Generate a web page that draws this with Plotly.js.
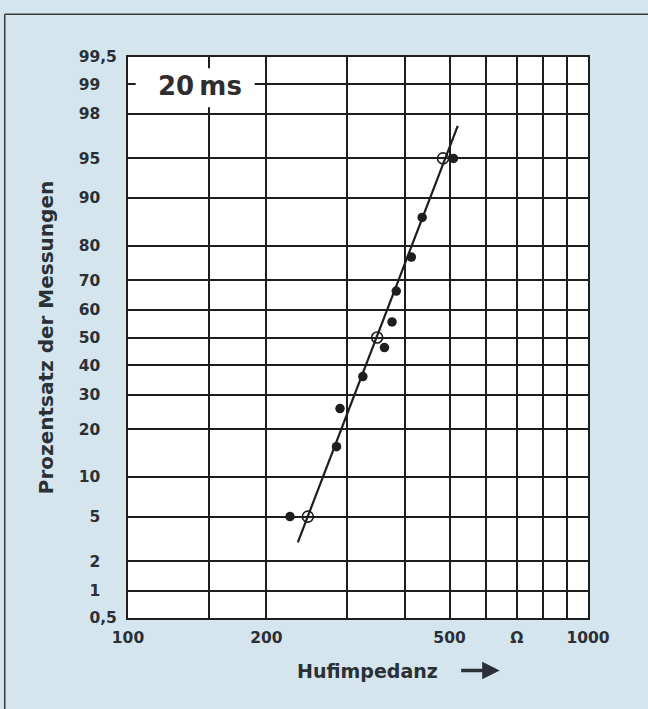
<!DOCTYPE html>
<html>
<head>
<meta charset="utf-8">
<script src="https://cdn.plot.ly/plotly-3.0.1.min.js"></script>
<style>html,body{margin:0;padding:0;background:#d4e5ee;}#chart{width:648px;height:709px;}</style>
</head>
<body>
<div id="chart"></div>
<script>
// ---- data ----
const measuredOhm = [225, 284, 289, 324, 361, 375, 383, 413, 436, 510];
const measuredPct = [5, 15.8, 25.7, 36, 46.3, 55.7, 66.5, 77, 86.5, 95];
const fitPointOhm = [246, 348, 484];
const fitPointPct = [5, 50, 95];
const fitLineOhm = [234, 521];
const fitLinePct = [3.0, 97.4];
const xTickVals = [100, 150, 200, 300, 400, 500, 600, 700, 800, 900, 1000];
const xTickText = ['100', '', '200', '', '', '500', '', 'Ω', '', '', '1000'];
const yTickPct = [0.5, 1, 2, 5, 10, 20, 30, 40, 50, 60, 70, 80, 90, 95, 98, 99, 99.5];
const yTickText = ['0,5', '1', '2', '5', '10', '20', '30', '40', '50', '60', '70', '80', '90', '95', '98', '99', '99,5'];
const insetLabel = '20\u2009ms';
const xTitle = 'Hufimpedanz';
const yTitle = 'Prozentsatz der Messungen';

// normal probability scale (inverse normal CDF, Acklam)
function probit(p) {
  const a=[-3.969683028665376e+01,2.209460984245205e+02,-2.759285104469687e+02,1.383577518672690e+02,-3.066479806614716e+01,2.506628277459239e+00];
  const b=[-5.447609879822406e+01,1.615858368580409e+02,-1.556989798598866e+02,6.680131188771972e+01,-1.328068155288572e+01];
  const c=[-7.784894002430293e-03,-3.223964580411365e-01,-2.400758277161838e+00,-2.549732539343734e+00,4.374664141464968e+00,2.938163982698783e+00];
  const d=[7.784695709041462e-03,3.224671290700398e-01,2.445134137142996e+00,3.754408661907416e+00];
  const pl = 0.02425, ph = 1 - pl; let q, r;
  if (p < pl) { q = Math.sqrt(-2*Math.log(p)); return (((((c[0]*q+c[1])*q+c[2])*q+c[3])*q+c[4])*q+c[5])/((((d[0]*q+d[1])*q+d[2])*q+d[3])*q+1); }
  if (p > ph) { q = Math.sqrt(-2*Math.log(1-p)); return -(((((c[0]*q+c[1])*q+c[2])*q+c[3])*q+c[4])*q+c[5])/((((d[0]*q+d[1])*q+d[2])*q+d[3])*q+1); }
  q = p - 0.5; r = q*q;
  return (((((a[0]*r+a[1])*r+a[2])*r+a[3])*r+a[4])*r+a[5])*q/(((((b[0]*r+b[1])*r+b[2])*r+b[3])*r+b[4])*r+1);
}
const z = arr => arr.map(v => probit(v / 100));

// decimal-aligned tick labels: pad integers with comma-width + figure space
const yTickLabels = yTickText.map(t => t.indexOf(',') >= 0 ? t : t + '\u2008\u2007');

const ink = '#1e1e1e';
const labelFont = {family: 'DejaVu Sans', size: 15.5, color: '#2a3036', weight: 700};

const traces = [
  {x: fitLineOhm, y: z(fitLinePct), mode: 'lines', line: {color: ink, width: 2.2}, hoverinfo: 'skip', showlegend: false},
  {x: measuredOhm, y: z(measuredPct), mode: 'markers', customdata: measuredPct,
   hovertemplate: '%{x} Ω, %{customdata} %<extra></extra>',
   marker: {color: ink, size: 9.5, symbol: 'circle'}, showlegend: false},
  {x: fitPointOhm, y: z(fitPointPct), mode: 'markers', customdata: fitPointPct,
   hovertemplate: '%{x} Ω, %{customdata} %<extra></extra>',
   marker: {color: ink, size: 11, symbol: 'circle-open', line: {width: 1.6, color: ink}}, showlegend: false}
];

const layout = {
  width: 648, height: 709,
  margin: {l: 128, r: 60, t: 57, b: 91},
  paper_bgcolor: '#d4e5ee',
  plot_bgcolor: '#ffffff',
  font: labelFont,
  xaxis: {
    type: 'log', range: [2, 3],
    tickmode: 'array', tickvals: xTickVals, ticktext: xTickText,
    showgrid: true, gridcolor: ink, gridwidth: 2,
    showline: true, mirror: true, linecolor: ink, linewidth: 2,
    ticks: '', ticklabelstandoff: 4, zeroline: false,
    tickfont: labelFont
  },
  yaxis: {
    range: [probit(0.005), probit(0.995)],
    tickmode: 'array', tickvals: z(yTickPct), ticktext: yTickLabels,
    showgrid: true, gridcolor: ink, gridwidth: 2,
    showline: true, mirror: true, linecolor: ink, linewidth: 2,
    ticks: '', ticklabelstandoff: 6, zeroline: false,
    tickfont: labelFont,
    title: {text: yTitle, font: {family: 'DejaVu Sans', size: 20, color: '#2a3036', weight: 700}, standoff: 20}
  },
  shapes: [
    {type: 'rect', xref: 'paper', yref: 'paper', x0: 0.0167, x1: 0.2754, y0: 0.9104, y1: 0.9799,
     fillcolor: '#ffffff', line: {width: 0}, layer: 'above'},
    {type: 'line', xref: 'paper', yref: 'paper', x0: -0.268, x1: 1.2, y0: 1.076, y1: 1.076, line: {color: '#3a3a3a', width: 1.5}},
    {type: 'line', xref: 'paper', yref: 'paper', x0: -0.268, x1: -0.268, y0: 1.076, y1: -0.2, line: {color: '#3a3a3a', width: 1.5}}
  ],
  annotations: [
    {xref: 'paper', yref: 'paper', x: 0.1559, y: 0.9478, text: insetLabel, showarrow: false,
     xanchor: 'center', yanchor: 'middle', font: {family: 'DejaVu Sans', size: 26, color: '#2e2e2e', weight: 700}},
    {xref: 'paper', yref: 'paper', x: 0.521, y: -0.0938, text: xTitle, showarrow: false,
     xanchor: 'center', yanchor: 'middle', font: {family: 'DejaVu Sans', size: 19, color: '#2a3036', weight: 700}},
    {xref: 'paper', yref: 'paper', x: 0.808, y: -0.0938, text: '', showarrow: true,
     ax: -40, ay: 0, arrowhead: 2, arrowsize: 1, arrowwidth: 3.5, arrowcolor: '#2a3036'}
  ]
};

Plotly.newPlot('chart', traces, layout, {displayModeBar: false, staticPlot: true});
</script>
</body>
</html>
